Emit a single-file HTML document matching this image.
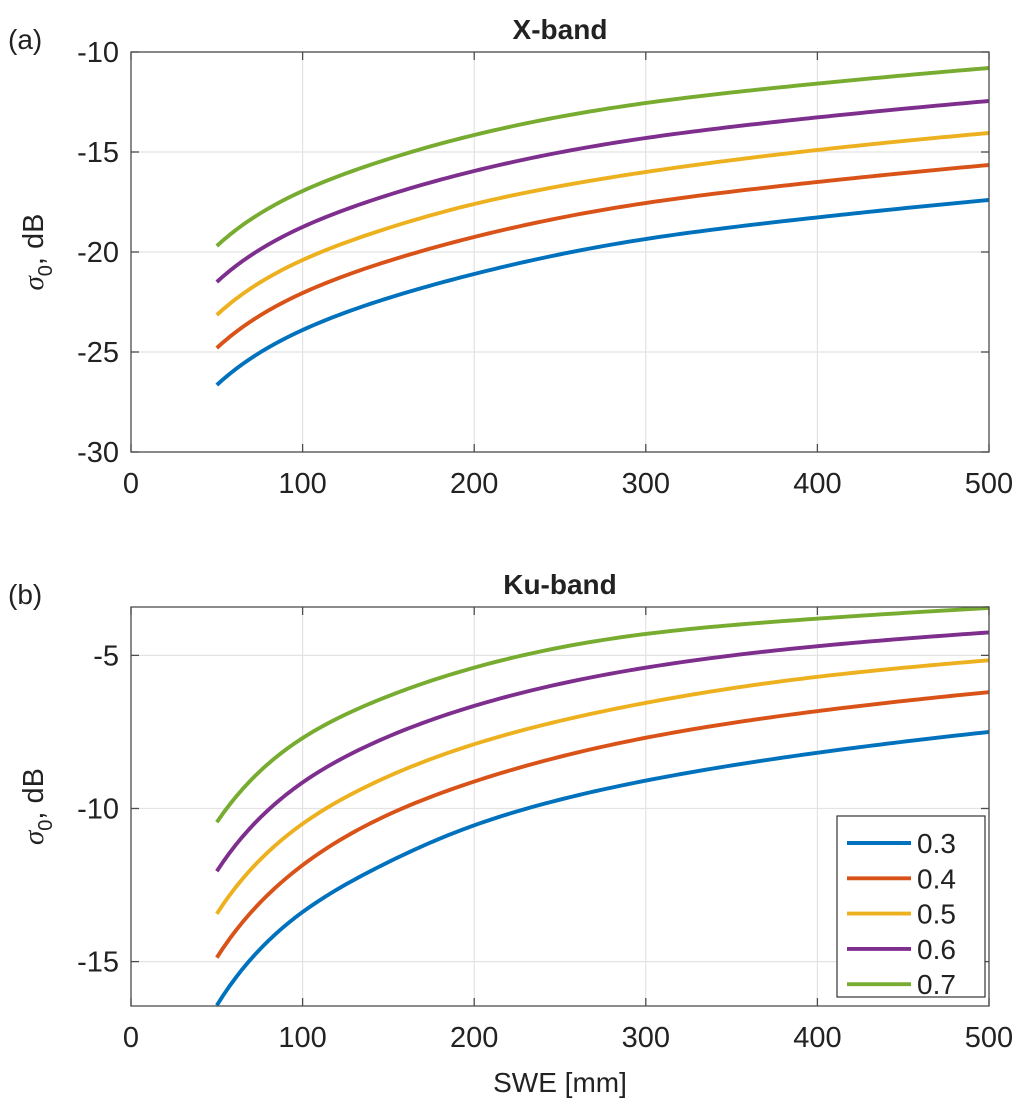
<!DOCTYPE html>
<html><head><meta charset="utf-8"><style>
html,body{margin:0;padding:0;background:#fff;width:1033px;height:1116px;overflow:hidden}
svg text{font-family:"Liberation Sans",Arial,sans-serif;fill:#222}
</style></head><body>
<svg id="fig" width="1033" height="1116" xmlns="http://www.w3.org/2000/svg"></svg>
<script>
const xs = [50,100,150,200,300,400,500];
const seriesNames = ['0.3','0.4','0.5','0.6','0.7'];
const colors = ['#0072BD','#D95319','#EDB120','#7E2F8E','#77AC30'];
const xBand03 = [-26.65,-23.9,-22.3,-21.1,-19.35,-18.27,-17.4];
const xBand04 = [-24.8,-22.05,-20.45,-19.25,-17.55,-16.5,-15.65];
const xBand05 = [-23.15,-20.4,-18.8,-17.6,-16.0,-14.9,-14.05];
const xBand06 = [-21.5,-18.75,-17.15,-15.95,-14.3,-13.27,-12.45];
const xBand07 = [-19.7,-16.95,-15.35,-14.15,-12.55,-11.58,-10.8];
const kuBand03 = [-16.43,-13.38,-11.75,-10.55,-9.09,-8.18,-7.5];
const kuBand04 = [-14.87,-11.85,-10.2,-9.12,-7.69,-6.82,-6.2];
const kuBand05 = [-13.44,-10.5,-8.95,-7.9,-6.55,-5.7,-5.16];
const kuBand06 = [-12.05,-9.15,-7.65,-6.65,-5.4,-4.7,-4.25];
const kuBand07 = [-10.45,-7.7,-6.33,-5.4,-4.3,-3.8,-3.45];
const xTicks = [0,100,200,300,400,500];
const yTicksA = [-10,-15,-20,-25,-30];
const yTicksB = [-5,-10,-15];

const svg = document.getElementById('fig');
const NS = 'http://www.w3.org/2000/svg';
function mk(tag, attrs, parent){const e=document.createElementNS(NS,tag);for(const k in attrs)e.setAttribute(k,attrs[k]);(parent||svg).appendChild(e);return e;}

// natural cubic spline in log(x) space for smooth rendering between read points
function spline(xv, yv){
  const n=xv.length, u=xv.map(Math.log), h=[], al=[], l=[1], mu=[0], z=[0], c=new Array(n).fill(0), b=[], d=[];
  for(let i=0;i<n-1;i++) h.push(u[i+1]-u[i]);
  for(let i=1;i<n-1;i++) al[i]=3/h[i]*(yv[i+1]-yv[i])-3/h[i-1]*(yv[i]-yv[i-1]);
  for(let i=1;i<n-1;i++){l[i]=2*(u[i+1]-u[i-1])-h[i-1]*mu[i-1];mu[i]=h[i]/l[i];z[i]=(al[i]-h[i-1]*z[i-1])/l[i];}
  l[n-1]=1;z[n-1]=0;
  for(let j=n-2;j>=0;j--){c[j]=z[j]-mu[j]*c[j+1];b[j]=(yv[j+1]-yv[j])/h[j]-h[j]*(c[j+1]+2*c[j])/3;d[j]=(c[j+1]-c[j])/(3*h[j]);}
  return x=>{const t=Math.log(x);let j=0;while(j<n-2&&t>u[j+1])j++;const dx=t-u[j];return yv[j]+b[j]*dx+c[j]*dx*dx+d[j]*dx*dx*dx;};
}

function panel(key, top, bottom, ymin, ymax, yTicks, data, title, letter, showLegend){
  const L=131,R=989;
  const sx=v=>L+(v-0)/(500-0)*(R-L);
  const sy=v=>bottom-(v-ymin)/(ymax-ymin)*(bottom-top);
  const g=mk('g',{});
  
  
  xTicks.forEach(t=>{
    const l=mk('line',{x1:sx(t),x2:sx(t),y1:top,y2:bottom,stroke:'#e3e3e3','stroke-width':1.2},g);
    
    
  });
  yTicks.forEach(t=>{
    const l=mk('line',{x1:L,x2:R,y1:sy(t),y2:sy(t),stroke:'#e3e3e3','stroke-width':1.2},g);
    
    
  });
  data.forEach((arr,i)=>{
    const f=spline(xs,arr);
    let d='';
    const x0=xs[0], x1=xs[xs.length-1];
    for(let k=0;k<=120;k++){const x=x0+(x1-x0)*k/120;d+=(k?'L':'M')+sx(x).toFixed(2)+','+sy(f(x)).toFixed(2);}
    const p=mk('path',{d:d,fill:'none',stroke:colors[i],'stroke-width':3.9,'stroke-linejoin':'round'},g);
    
    
  });
  const b=mk('rect',{x:L,y:top,width:R-L,height:bottom-top,fill:'none',stroke:'#4d4d4d','stroke-width':1.3},g);
  
  
  xTicks.forEach(t=>{
    mk('line',{x1:sx(t),x2:sx(t),y1:bottom,y2:bottom-8,stroke:'#4d4d4d','stroke-width':1.3},g);
    mk('line',{x1:sx(t),x2:sx(t),y1:top,y2:top+8,stroke:'#4d4d4d','stroke-width':1.3},g);
    const tx=mk('text',{x:sx(t),y:bottom+41,'text-anchor':'middle','font-size':29},g);
    tx.textContent=t;
    
    
  });
  yTicks.forEach(t=>{
    mk('line',{x1:L,x2:L+8,y1:sy(t),y2:sy(t),stroke:'#4d4d4d','stroke-width':1.3},g);
    mk('line',{x1:R,x2:R-8,y1:sy(t),y2:sy(t),stroke:'#4d4d4d','stroke-width':1.3},g);
    const tx=mk('text',{x:119,y:sy(t)+10,'text-anchor':'end','font-size':29},g);
    tx.textContent=t;
    
    
  });
  const tt=mk('text',{x:(L+R)/2,y:top-13,'text-anchor':'middle','font-size':28,'font-weight':'bold'},g);
  tt.textContent=title;
  
  
  const lt=mk('text',{x:8,y:top-3,'font-size':28},g);
  lt.textContent=letter;
  
  
  const yc=(top+bottom)/2;
  const yl=mk('text',{x:0,y:0,'font-size':29,'text-anchor':'middle',transform:'translate(43,'+yc+') rotate(-90)'},g);
  yl.innerHTML='<tspan font-family="Liberation Serif" font-style="italic">σ</tspan><tspan font-size="20" dy="9">0</tspan><tspan dy="-9">, dB</tspan>';
  
  
  if(showLegend){
    const lg=mk('g',{},g);
    
    
    mk('rect',{x:837,y:816,width:148,height:181,fill:'#fff',stroke:'#333','stroke-width':1.2},lg);
    seriesNames.forEach((n,i)=>{
      const yy=843+i*35.3;
      const e=mk('g',{},lg);
      
      
      mk('line',{x1:847,x2:911,y1:yy,y2:yy,stroke:colors[i],'stroke-width':3.9},e);
      const t=mk('text',{x:917,y:yy+10,'font-size':28},e);
      t.textContent=n;
    });
  }
}
panel('x-band',52,452,-30,-10,yTicksA,[xBand03,xBand04,xBand05,xBand06,xBand07],'X-band','(a)',false);
panel('ku-band',607,1006,-16.45,-3.42,yTicksB,[kuBand03,kuBand04,kuBand05,kuBand06,kuBand07],'Ku-band','(b)',true);
const xl=mk('text',{x:560,y:1092,'text-anchor':'middle','font-size':28});
xl.textContent='SWE [mm]';


</script>
</body></html>
